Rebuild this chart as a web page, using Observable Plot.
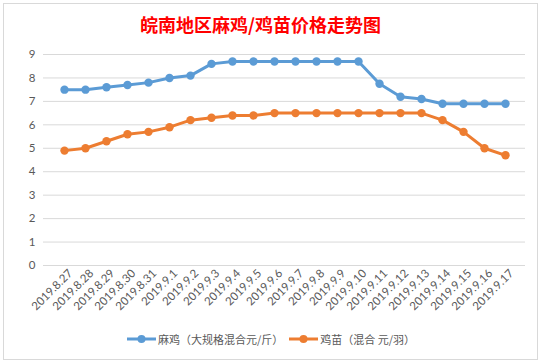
<!DOCTYPE html>
<html>
<head>
<meta charset="utf-8">
<script src="https://cdn.jsdelivr.net/npm/d3@7"></script>
<script src="https://cdn.jsdelivr.net/npm/@observablehq/plot@0.6"></script>
<style>
  body { margin: 0; width: 542px; height: 363px; overflow: hidden; background: #fff; font-family: Lato, "Noto Sans CJK SC", sans-serif; }
  #frame { position: absolute; left: 3px; top: 3px; width: 535px; height: 357px; border: 1px solid #d9d9d9; box-sizing: border-box; }
  #title { position: absolute; left: 0; width: 521px; top: 13px; text-align: center; font-family: "Noto Sans CJK SC", sans-serif; font-weight: bold; font-size: 18px; line-height: 22px; color: #ff0000; }
  #chart { position: absolute; left: 0; top: 0; }
  #legend { position: absolute; top: 331px; left: 0; width: 542px; display: flex; justify-content: center; gap: 6px; font-family: "Noto Sans CJK SC", sans-serif; font-size: 11px; color: #595959; }
  .item { display: flex; align-items: center; gap: 2px; }
</style>
</head>
<body>
<div id="frame"></div>
<div id="chart"></div>
<div id="title">皖南地区麻鸡/鸡苗价格走势图</div>
<div id="legend"></div>
<script>
const dates = ["2019.8.27","2019.8.28","2019.8.29","2019.8.30","2019.8.31","2019.9.1","2019.9.2","2019.9.3","2019.9.4","2019.9.5","2019.9.6","2019.9.7","2019.9.8","2019.9.9","2019.9.10","2019.9.11","2019.9.12","2019.9.13","2019.9.14","2019.9.15","2019.9.16","2019.9.17"];
const majiName = "麻鸡（大规格混合元/斤）";
const jimiaoName = "鸡苗（混合 元/羽）";
const majiValues = [7.5,7.5,7.6,7.7,7.8,8.0,8.1,8.6,8.7,8.7,8.7,8.7,8.7,8.7,8.7,7.75,7.2,7.1,6.9,6.9,6.9,6.9];
const jimiaoValues = [4.9,5.0,5.3,5.6,5.7,5.9,6.2,6.3,6.4,6.4,6.5,6.5,6.5,6.5,6.5,6.5,6.5,6.5,6.2,5.7,5.0,4.7];
const yTicks = [0,1,2,3,4,5,6,7,8,9];
const seriesNames = [majiName, jimiaoName];
const seriesColors = ["#5b9bd5", "#ed7d31"];

const data = [
  ...dates.map((d, i) => ({date: d, value: majiValues[i], series: majiName})),
  ...dates.map((d, i) => ({date: d, value: jimiaoValues[i], series: jimiaoName}))
];

const chart = Plot.plot({
  width: 542,
  height: 320,
  marginTop: 54,
  marginBottom: 55,
  marginLeft: 43,
  marginRight: 17,
  style: {fontFamily: "Lato, 'Noto Sans CJK SC', sans-serif", color: "#595959", background: "transparent"},
  x: {type: "point", domain: dates, padding: 0.5, label: null},
  y: {domain: [0, 9], ticks: yTicks, label: null},
  color: {domain: seriesNames, range: seriesColors},
  marks: [
    Plot.ruleY(yTicks, {stroke: "#d9d9d9", strokeWidth: 1}),
    Plot.axisY({ticks: yTicks, tickSize: 0, tickPadding: 8, fontSize: 11.5, fill: "#595959", label: null}),
    Plot.axisX({tickSize: 0, tickRotate: -45, tickPadding: 6, dx: 6, fontSize: 11.5, fill: "#595959", label: null}),
    Plot.line(data, {x: "date", y: "value", z: "series", stroke: "series", strokeWidth: 3, curve: "linear"}),
    Plot.dot(data, {x: "date", y: "value", fill: "series", r: 4.2, stroke: "none"})
  ]
});
document.getElementById("chart").appendChild(chart);

const legend = d3.select("#legend");
seriesNames.forEach((name, i) => {
  const item = legend.append("div").attr("class", "item");
  const sw = item.append("svg").attr("width", 29).attr("height", 10);
  sw.append("line").attr("x1", 0).attr("x2", 29).attr("y1", 5).attr("y2", 5)
    .attr("stroke", seriesColors[i]).attr("stroke-width", 3);
  sw.append("circle").attr("cx", 14.5).attr("cy", 5).attr("r", 4).attr("fill", seriesColors[i]);
  item.append("span").text(name);
});
</script>
</body>
</html>
